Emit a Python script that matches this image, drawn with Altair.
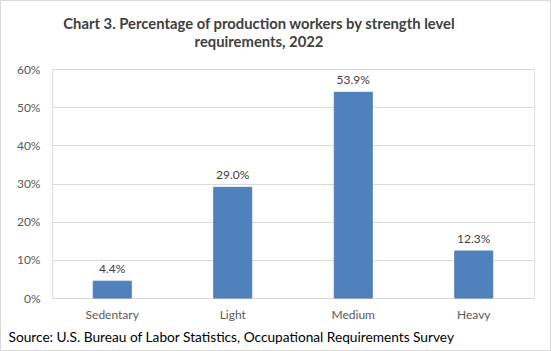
import altair as alt
import pandas as pd

categories = ["Sedentary", "Light", "Medium", "Heavy"]
values = [4.4, 29.0, 53.9, 12.3]
labels = ["4.4%", "29.0%", "53.9%", "12.3%"]
title_lines = ["Chart 3. Percentage of production workers by strength level", "requirements, 2022"]
source = "Source: U.S. Bureau of Labor Statistics, Occupational Requirements Survey"

df = pd.DataFrame({"cat": categories, "val": values, "lab": labels})

W, H = 482, 229
PL, PT, PR, PB = 52, 69, 17, 53

x = alt.X("cat:N", sort=categories,
          scale=alt.Scale(paddingInner=0.68, paddingOuter=0.34),
          axis=alt.Axis(title=source,
                        titleAnchor="start", titleAlign="left", titleBaseline="alphabetic",
                        titleX=-44, titleY=43,
                        titleFont="Lato", titleFontSize=13.7, titleFontWeight="normal", titleColor="#000000",
                        labelAngle=0, labelFont="Lato", labelFontSize=12, labelColor="#595959",
                        labelPadding=11, ticks=False, domain=False))
y = alt.Y("val:Q", scale=alt.Scale(domain=[0, 60]),
          axis=alt.Axis(title=None, values=[0, 10, 20, 30, 40, 50, 60], tickCount=7,
                        labelExpr="datum.value + '%'", labelFont="Lato", labelFontSize=12,
                        labelColor="#595959", labelPadding=12, ticks=False, domain=False,
                        labelOverlap=False, gridColor="#d9d9d9", gridWidth=1))

base = alt.Chart(df)
bars = base.mark_bar(size=38, color="#4f81bd", stroke="#4a7ebb", strokeWidth=1).encode(x=x, y=y)
text = base.mark_text(dy=-12, font="Lato", fontSize=12, color="#404040").encode(
    x=x, y=y, text="lab:N")

tdf = pd.DataFrame({"t": title_lines, "i": [0, 1]})
t1 = alt.Chart(tdf).transform_filter("datum.i == 0").mark_text(
    font="Lato", fontSize=14.8, fontWeight="bold", color="#404040", align="center", baseline="alphabetic"
).encode(text="t:N", x=alt.value(207), y=alt.value(28.5 - PT))
t2 = alt.Chart(tdf).transform_filter("datum.i == 1").mark_text(
    font="Lato", fontSize=14.8, fontWeight="bold", color="#404040", align="center", baseline="alphabetic"
).encode(text="t:N", x=alt.value(207), y=alt.value(47 - PT))

border = alt.Chart(tdf).transform_filter("datum.i == 0").mark_rect(
    fill=None, stroke="#d9d9d9", strokeWidth=1).encode(
    x=alt.value(-PL + 0.5), x2=alt.value(W + PR - 0.5),
    y=alt.value(-PT + 0.5), y2=alt.value(H + PB - 0.5))

chart = alt.layer(bars, text, t1, t2, border).properties(
    width=W, height=H,
    autosize=alt.AutoSizeParams(type="none"),
    padding={"left": PL, "top": PT, "right": PR, "bottom": PB},
).configure_view(stroke=None).configure(background="white")

chart.save("out.html", embed_options={"renderer": "svg", "actions": False})
